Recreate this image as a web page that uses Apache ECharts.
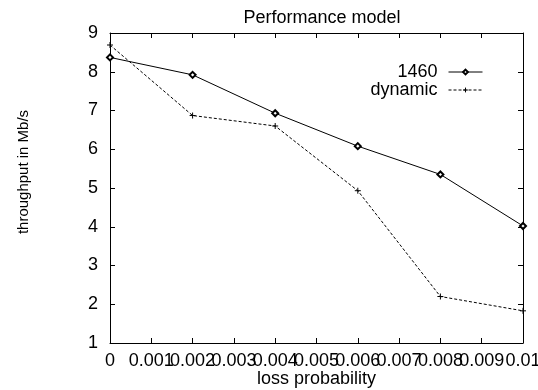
<!DOCTYPE html>
<html>
<head>
<meta charset="utf-8">
<script src="https://cdn.jsdelivr.net/npm/echarts@6/dist/echarts.min.js"></script>
<style>
  html, body { margin: 0; padding: 0; background: #fff; }
  #chart { width: 538px; height: 390px; }
</style>
</head>
<body>
<div id="chart"></div>
<script>
  // loss probability (x) and throughput values
  const lossProb = [0, 0.002, 0.004, 0.006, 0.008, 0.01];
  const thr1460 = [8.37, 7.92, 6.93, 6.08, 5.35, 4.02];
  const thrDynamic = [8.69, 6.87, 6.6, 4.93, 2.2, 1.83];

  const xTickLabels = ['0', '0.001', '0.002', '0.003', '0.004', '0.005', '0.006', '0.007', '0.008', '0.009', '0.01'];
  const yTickLabels = ['1', '2', '3', '4', '5', '6', '7', '8', '9'];

  const font = 'Liberation Sans, Arial, sans-serif';
  const plusPath = 'path://M0,5L10,5M5,0L5,10';

  const chart = echarts.init(document.getElementById('chart'), null, { renderer: 'canvas' });

  const pairs = (ys) => lossProb.map((x, i) => [x, ys[i]]);

  // gnuplot style: ticks inside on every side, no grid lines
  const baseAxis = {
    type: 'value',
    axisLine: { show: true, onZero: false, lineStyle: { color: '#000', width: 1 } },
    axisTick: { show: true, inside: true, length: 5, lineStyle: { color: '#000' } },
    splitLine: { show: false }
  };

  var option = {
    animation: false,
    textStyle: { fontFamily: font },
    title: {
      text: 'Performance model',
      left: 317,
      textAlign: 'center',
      top: 4,
      textStyle: { fontFamily: font, fontSize: 18, fontWeight: 'normal', color: '#000' }
    },
    legend: {
      orient: 'vertical',
      right: 50,
      top: 58,
      align: 'right',
      itemWidth: 34,
      itemHeight: 6,
      itemGap: 0,
      lineStyle: { width: 1 },
      itemStyle: { borderWidth: 1 },
      textStyle: { fontFamily: font, fontSize: 18, color: '#000', padding: [0, 6, 0, 0] },
      data: ['1460', 'dynamic']
    },
    grid: {
      left: 110,
      right: 15,
      top: 33,
      bottom: 47,
      containLabel: false,
      outerBoundsMode: 'none'
    },
    xAxis: [
      Object.assign({}, baseAxis, {
        min: 0,
        max: 0.01,
        interval: 0.001,
        position: 'bottom',
        name: 'loss probability',
        nameLocation: 'middle',
        nameGap: 27,
        nameMoveOverlap: false,
        nameTextStyle: { fontFamily: font, fontSize: 18, color: '#000' },
        axisLabel: {
          color: '#000',
          fontSize: 18,
          margin: 9,
          hideOverlap: false,
          formatter: (v, i) => xTickLabels[Math.round(v / 0.001)]
        }
      }),
      Object.assign({}, baseAxis, {
        min: 0,
        max: 0.01,
        interval: 0.001,
        position: 'top',
        axisLabel: { show: false }
      })
    ],
    yAxis: [
      Object.assign({}, baseAxis, {
        min: 1,
        max: 9,
        interval: 1,
        position: 'left',
        name: 'throughput in Mb/s',
        nameLocation: 'middle',
        nameGap: 79,
        nameMoveOverlap: false,
        nameTextStyle: { fontFamily: font, fontSize: 15, color: '#000', padding: [0, 0, 0, 32] },
        axisLabel: {
          color: '#000',
          fontSize: 18,
          margin: 12,
          formatter: (v) => yTickLabels[Math.round(v) - 1]
        }
      }),
      Object.assign({}, baseAxis, {
        min: 1,
        max: 9,
        interval: 1,
        position: 'right',
        axisLabel: { show: false }
      })
    ],
    series: [{
      name: '1460',
      type: 'line',
      data: pairs(thr1460),
      symbol: 'emptyDiamond',
      symbolSize: 6,
      showAllSymbol: true,
      itemStyle: { color: '#000', borderColor: '#000', borderWidth: 1 },
      lineStyle: { color: '#000', width: 1, type: 'solid' }
    }, {
      name: 'dynamic',
      type: 'line',
      data: pairs(thrDynamic),
      symbol: plusPath,
      symbolSize: 6,
      showAllSymbol: true,
      itemStyle: { color: '#000', borderColor: '#000', borderWidth: 1 },
      lineStyle: { color: '#000', width: 1, type: [3, 2] }
    }]
  };
  chart.setOption(option);
</script>
</body>
</html>
